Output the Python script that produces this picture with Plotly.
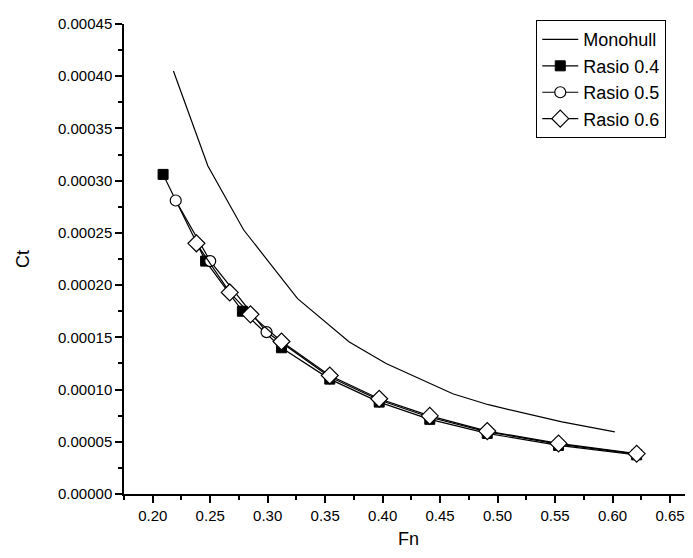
import plotly.graph_objects as go

# Monohull
mono_fn = [0.218, 0.248, 0.279, 0.326, 0.371, 0.403, 0.461, 0.492, 0.556, 0.602]
mono_ct = [0.000405, 0.000314, 0.000253, 0.000187, 0.0001455, 0.000125, 0.000096, 0.0000855, 0.000069, 0.0000594]

# Rasio 0.4
r4_fn = [0.209, 0.246, 0.278, 0.312, 0.354, 0.397, 0.441, 0.491, 0.553, 0.621]
r4_ct = [0.000306, 0.000223, 0.000175, 0.000140, 0.000110, 0.0000880, 0.0000715, 0.0000580, 0.0000465, 0.0000375]

# Rasio 0.5
r5_fn = [0.220, 0.250, 0.299, 0.312, 0.354, 0.397, 0.441, 0.491, 0.553, 0.621]
r5_ct = [0.000281, 0.000223, 0.000155, 0.000145, 0.000112, 0.0000900, 0.0000735, 0.0000595, 0.0000478, 0.0000382]

# Rasio 0.6
r6_fn = [0.238, 0.267, 0.285, 0.312, 0.354, 0.397, 0.441, 0.491, 0.553, 0.621]
r6_ct = [0.000240, 0.000193, 0.000172, 0.000146, 0.0001135, 0.0000912, 0.0000748, 0.0000602, 0.0000484, 0.0000386]

FONT = "Liberation Sans, Arial, sans-serif"

fig = go.Figure()
fig.add_trace(go.Scatter(x=mono_fn, y=mono_ct, mode="lines", name="Monohull",
                         line=dict(color="black", width=1.2)))
fig.add_trace(go.Scatter(x=r4_fn, y=r4_ct, mode="lines+markers", name="Rasio 0.4",
                         line=dict(color="black", width=1.2),
                         marker=dict(symbol="square", size=10, color="black",
                                     line=dict(color="black", width=1))))
fig.add_trace(go.Scatter(x=r5_fn, y=r5_ct, mode="lines+markers", name="Rasio 0.5",
                         line=dict(color="black", width=1.2),
                         marker=dict(symbol="circle", size=11, color="white",
                                     line=dict(color="black", width=1.2))))
fig.add_trace(go.Scatter(x=r6_fn, y=r6_ct, mode="lines+markers", name="Rasio 0.6",
                         line=dict(color="black", width=1.2),
                         marker=dict(symbol="diamond", size=13, color="white",
                                     line=dict(color="black", width=1.2))))

fig.update_layout(
    width=693, height=558,
    margin=dict(l=116, r=8, t=16, b=72),
    paper_bgcolor="white", plot_bgcolor="white",
    font=dict(family=FONT, size=15, color="black"),
    legend=dict(x=0.953, y=1.008, xanchor="right", yanchor="top",
                bordercolor="black", borderwidth=1, bgcolor="white",
                font=dict(family=FONT, size=18), tracegroupgap=0,
                itemwidth=36),
    showlegend=True,
)
fig.update_xaxes(
    range=[0.175, 0.670], showgrid=False, zeroline=False,
    showline=True, linecolor="black", linewidth=1.5,
    ticks="outside", ticklen=7, tickwidth=1.5, tickcolor="black",
    tick0=0.2, dtick=0.05, tickformat=".2f",
    minor=dict(ticks="outside", ticklen=4, tickwidth=1.5, tickcolor="black", dtick=0.025, tick0=0.175),
    title=dict(text="Fn", font=dict(family=FONT, size=18), standoff=10),
    tickfont=dict(family=FONT, size=15),
)
fig.update_yaxes(
    range=[0, 0.00045], showgrid=False, zeroline=False,
    showline=True, linecolor="black", linewidth=1.5,
    ticks="outside", ticklen=7, tickwidth=1.5, tickcolor="black",
    tick0=0, dtick=0.00005, tickformat=".5f",
    minor=dict(ticks="outside", ticklen=4, tickwidth=1.5, tickcolor="black", dtick=0.000025),
    title=dict(text="Ct", font=dict(family=FONT, size=18), standoff=24),
    tickfont=dict(family=FONT, size=15),
)

fig.write_html("out.html")
